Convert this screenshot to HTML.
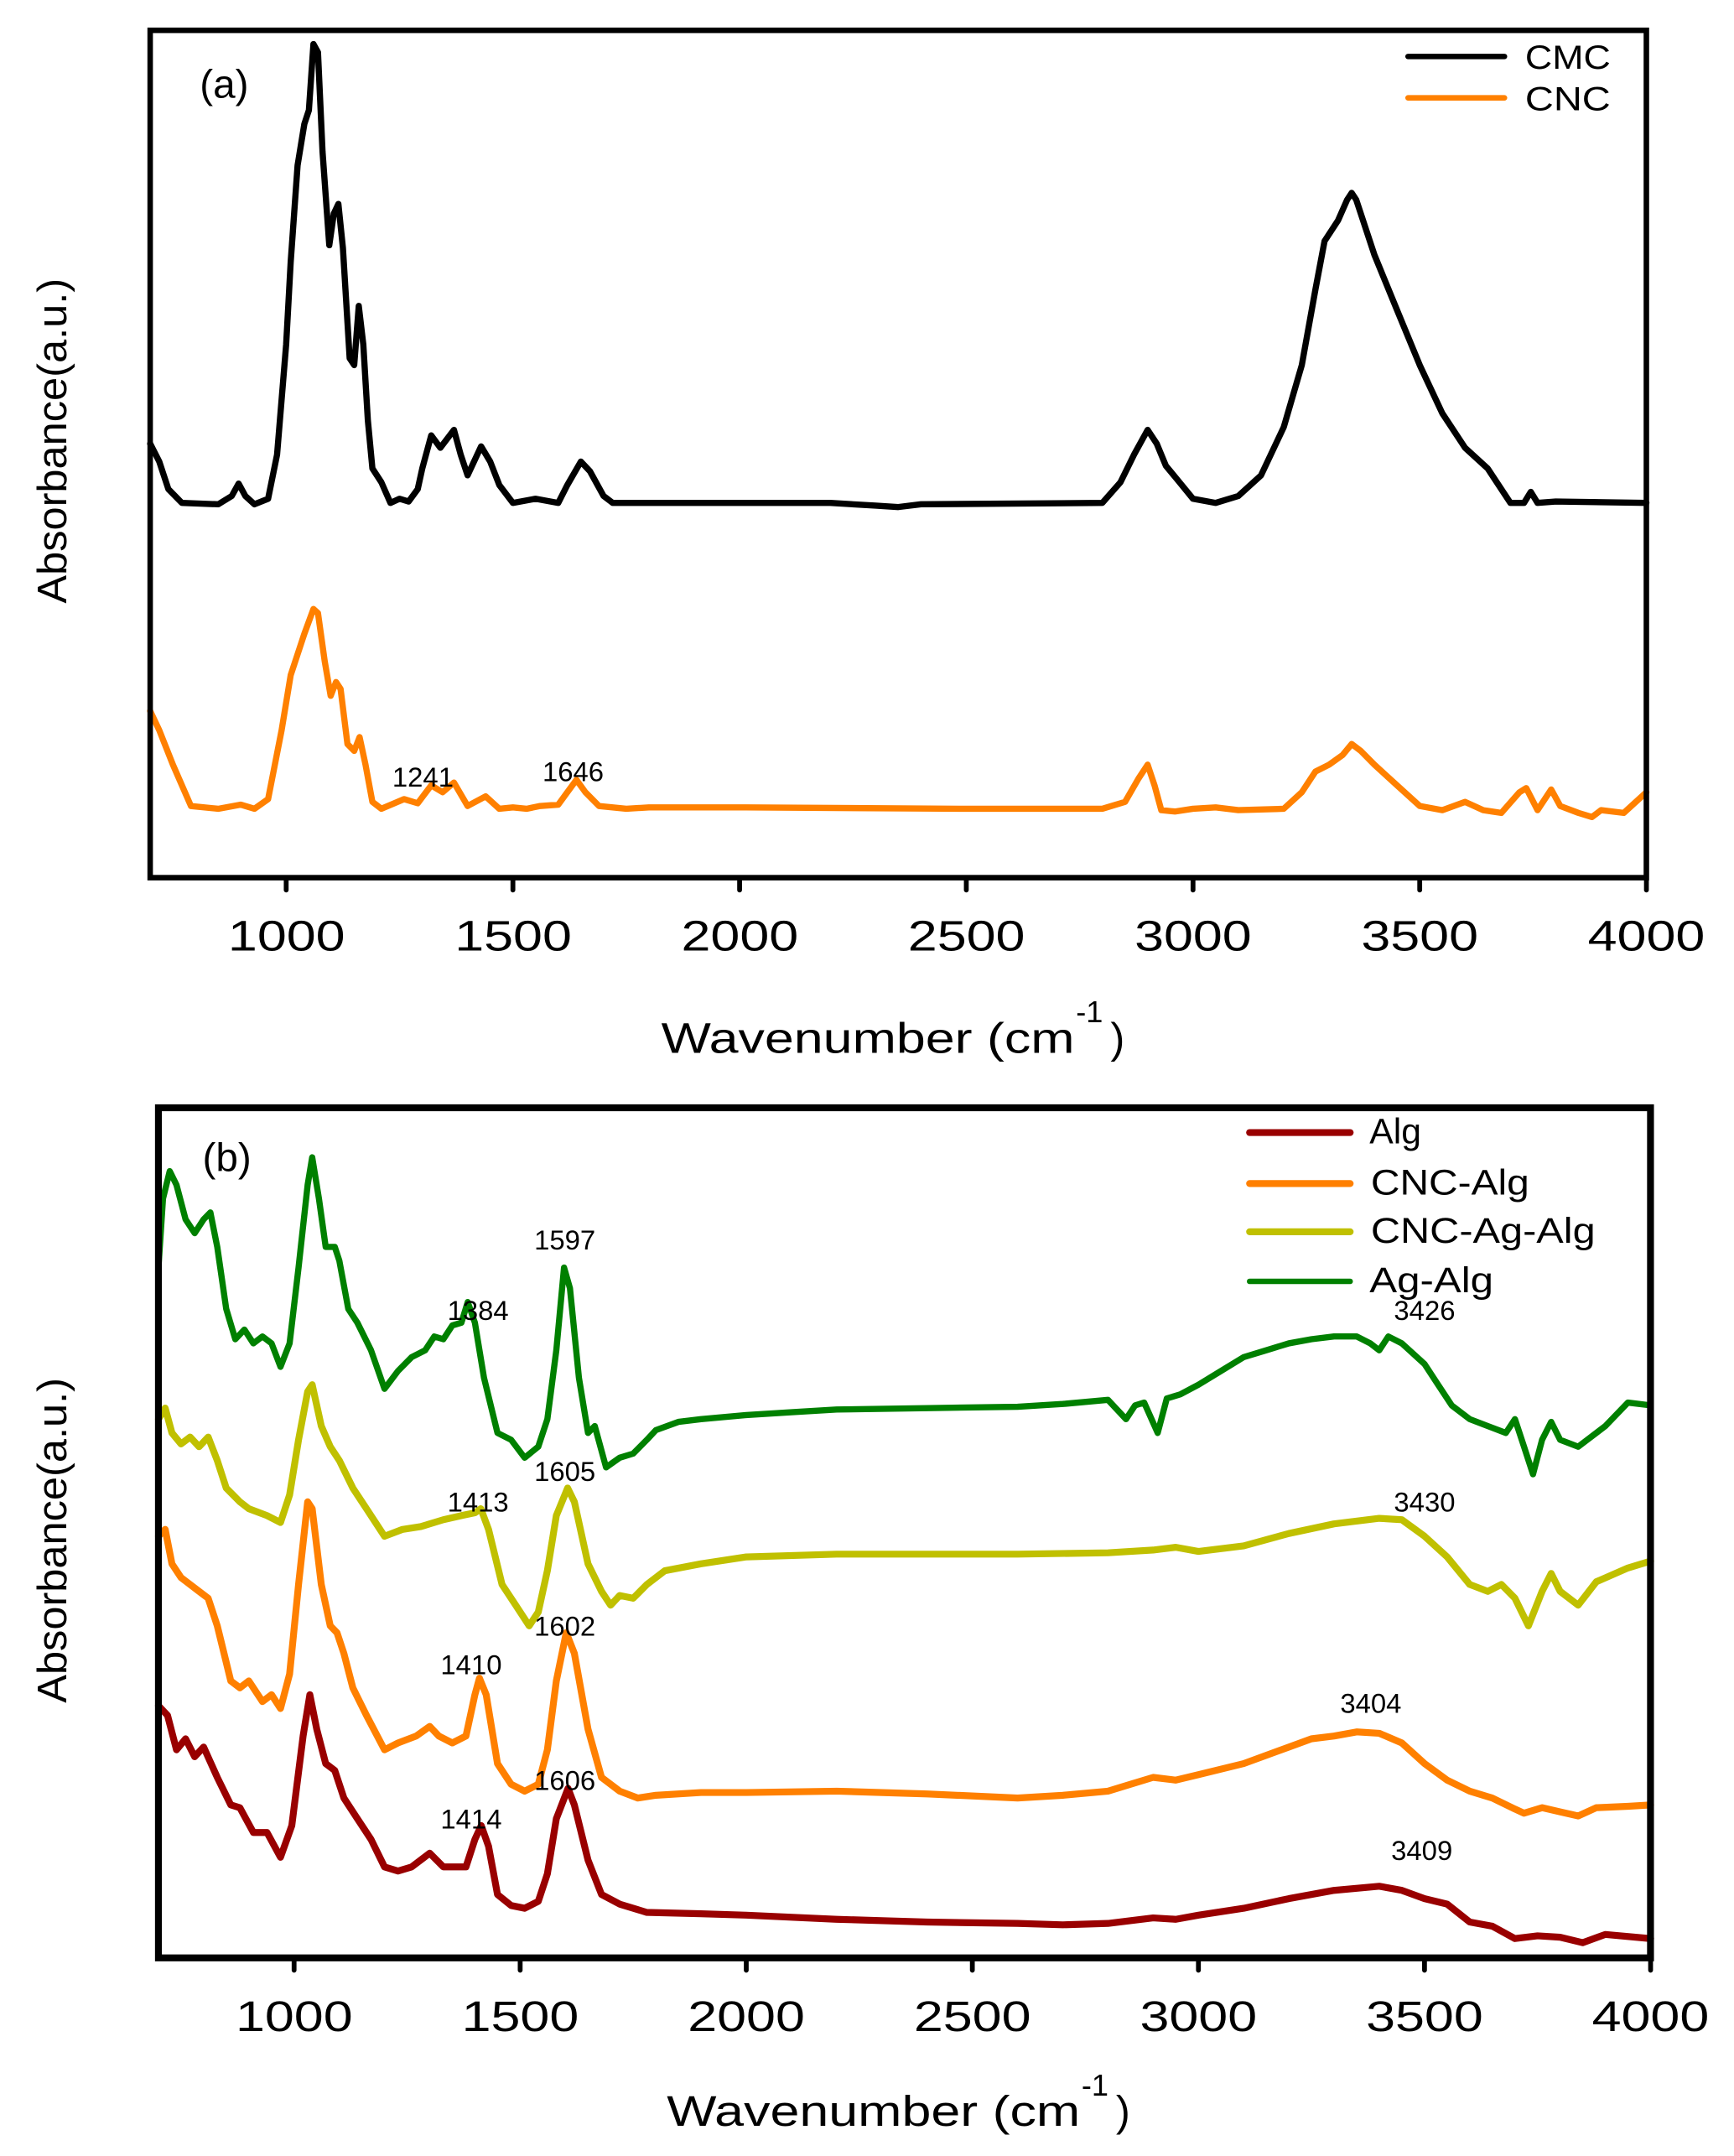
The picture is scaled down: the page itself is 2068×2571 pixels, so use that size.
<!DOCTYPE html>
<html><head><meta charset="utf-8"><style>
html,body{margin:0;padding:0;background:#fff}
svg{display:block}
text{font-family:"Liberation Sans",Arial,sans-serif;fill:#000}
</style></head><body>
<svg id="s" xmlns="http://www.w3.org/2000/svg" width="2068" height="2571" viewBox="0 0 1258.6 1564.8" preserveAspectRatio="none">
<rect x="0" y="0" width="1258.6" height="1564.8" fill="#fff"/>
<g id="series"></g>
<rect x="109" y="22" width="1086" height="615" fill="none" stroke="#000" stroke-width="4"/>
<rect x="115" y="804" width="1083" height="617" fill="none" stroke="#000" stroke-width="5"/>
<g id="ticks" stroke="#000" stroke-width="3.5" stroke-linecap="round"></g>
<g font-size="31">
<text x="208" y="690" text-anchor="middle" textLength="85" lengthAdjust="spacingAndGlyphs">1000</text>
<text x="372.5" y="690" text-anchor="middle" textLength="85" lengthAdjust="spacingAndGlyphs">1500</text>
<text x="537" y="690" text-anchor="middle" textLength="85" lengthAdjust="spacingAndGlyphs">2000</text>
<text x="701.5" y="690" text-anchor="middle" textLength="85" lengthAdjust="spacingAndGlyphs">2500</text>
<text x="866" y="690" text-anchor="middle" textLength="85" lengthAdjust="spacingAndGlyphs">3000</text>
<text x="1030.5" y="690" text-anchor="middle" textLength="85" lengthAdjust="spacingAndGlyphs">3500</text>
<text x="1195" y="690" text-anchor="middle" textLength="85" lengthAdjust="spacingAndGlyphs">4000</text>
</g>
<g font-size="31">
<text x="213.5" y="1474" text-anchor="middle" textLength="85" lengthAdjust="spacingAndGlyphs">1000</text>
<text x="377.6" y="1474" text-anchor="middle" textLength="85" lengthAdjust="spacingAndGlyphs">1500</text>
<text x="541.7" y="1474" text-anchor="middle" textLength="85" lengthAdjust="spacingAndGlyphs">2000</text>
<text x="705.8" y="1474" text-anchor="middle" textLength="85" lengthAdjust="spacingAndGlyphs">2500</text>
<text x="869.9" y="1474" text-anchor="middle" textLength="85" lengthAdjust="spacingAndGlyphs">3000</text>
<text x="1034" y="1474" text-anchor="middle" textLength="85" lengthAdjust="spacingAndGlyphs">3500</text>
<text x="1198" y="1474" text-anchor="middle" textLength="85" lengthAdjust="spacingAndGlyphs">4000</text>
</g>
<text x="480" y="764" font-size="31" textLength="300" lengthAdjust="spacingAndGlyphs">Wavenumber (cm</text>
<text x="781" y="742" font-size="22">-1</text>
<text x="806" y="764" font-size="31">)</text>
<text x="484" y="1543" font-size="31" textLength="300" lengthAdjust="spacingAndGlyphs">Wavenumber (cm</text>
<text x="785" y="1521" font-size="22">-1</text>
<text x="810" y="1543" font-size="31">)</text>
<text transform="translate(48,320) rotate(-90)" font-size="30" text-anchor="middle" textLength="236" lengthAdjust="spacingAndGlyphs">Absorbance(a.u.)</text>
<text transform="translate(48,1118) rotate(-90)" font-size="30" text-anchor="middle" textLength="236" lengthAdjust="spacingAndGlyphs">Absorbance(a.u.)</text>
<text x="145" y="71" font-size="29">(a)</text>
<text x="147" y="850" font-size="29">(b)</text>
<line x1="1022" y1="41" x2="1092" y2="41" stroke="#000" stroke-width="4" stroke-linecap="round"/>
<line x1="1022" y1="71" x2="1092" y2="71" stroke="#FF8000" stroke-width="4" stroke-linecap="round"/>
<text x="1107" y="50" font-size="24" textLength="62" lengthAdjust="spacingAndGlyphs">CMC</text>
<text x="1107" y="80" font-size="24" textLength="62" lengthAdjust="spacingAndGlyphs">CNC</text>
<line x1="907" y1="822" x2="980" y2="822" stroke="#990000" stroke-width="5" stroke-linecap="round"/>
<line x1="907" y1="859" x2="980" y2="859" stroke="#FF8000" stroke-width="5" stroke-linecap="round"/>
<line x1="907" y1="894" x2="980" y2="894" stroke="#C0C000" stroke-width="5" stroke-linecap="round"/>
<line x1="907" y1="930" x2="980" y2="930" stroke="#008000" stroke-width="4" stroke-linecap="round"/>
<g font-size="26">
<text x="994" y="830">Alg</text>
<text x="995" y="867" textLength="115" lengthAdjust="spacingAndGlyphs">CNC-Alg</text>
<text x="995" y="902" textLength="163" lengthAdjust="spacingAndGlyphs">CNC-Ag-Alg</text>
<text x="994" y="938" textLength="90" lengthAdjust="spacingAndGlyphs">Ag-Alg</text>
</g>
<g font-size="20" text-anchor="middle">
<text x="307" y="571">1241</text>
<text x="416" y="567">1646</text>
<text x="410" y="907">1597</text>
<text x="347" y="958">1384</text>
<text x="1034" y="958">3426</text>
<text x="410" y="1075">1605</text>
<text x="347" y="1097">1413</text>
<text x="1034" y="1097">3430</text>
<text x="410" y="1187">1602</text>
<text x="342" y="1215">1410</text>
<text x="995" y="1243">3404</text>
<text x="410" y="1299">1606</text>
<text x="342" y="1327">1414</text>
<text x="1032" y="1350">3409</text>
</g>
</svg>
<script>
(function(){
var NS="http://www.w3.org/2000/svg";
var g=document.getElementById("series"), tk=document.getElementById("ticks");
function Xa(w){return 109+(w-700)*0.3291;}
function Xb(w){return 115+(w-700)*0.3282;}
function add(d,fx,col,sw){
  var pts=[];for(var i=0;i<d.length;i+=2){pts.push(fx(d[i]).toFixed(1)+","+d[i+1]);}
  var p=document.createElementNS(NS,"polyline");
  p.setAttribute("points",pts.join(" "));p.setAttribute("fill","none");
  p.setAttribute("stroke",col);p.setAttribute("stroke-width",sw);
  p.setAttribute("stroke-linejoin","round");p.setAttribute("stroke-linecap","round");
  g.appendChild(p);
}
var cmc=[700,322,720,335,740,355,770,365,850,366,880,360,895,351,910,360,930,366,960,362,980,330,1000,250,1010,190,1025,120,1040,90,1050,80,1060,32,1070,38,1080,110,1095,178,1105,155,1115,148,1125,180,1140,260,1150,265,1160,222,1170,250,1180,305,1190,340,1210,350,1230,365,1250,362,1270,364,1290,355,1300,340,1320,316,1340,325,1370,312,1385,330,1400,345,1430,324,1450,335,1470,352,1500,365,1550,362,1600,365,1620,352,1650,335,1670,342,1700,360,1720,365,1800,365,2200,365,2300,367,2350,368,2400,366,2800,365,2840,350,2870,330,2900,312,2920,322,2940,338,2970,350,3000,362,3050,365,3100,360,3150,345,3200,310,3240,265,3270,210,3290,175,3320,160,3340,145,3350,140,3360,145,3380,165,3400,185,3450,225,3500,265,3550,300,3600,325,3650,340,3700,365,3730,365,3745,357,3760,365,3800,364,4000,365];
var cnc=[700,516,720,530,750,555,790,585,850,587,900,584,930,587,960,580,990,530,1010,490,1040,460,1060,442,1070,445,1085,480,1098,505,1110,495,1120,500,1135,540,1150,545,1162,535,1175,555,1190,582,1210,587,1260,580,1290,583,1320,570,1345,575,1370,568,1400,585,1440,578,1470,587,1500,586,1530,587,1560,585,1600,584,1620,575,1640,566,1660,575,1690,585,1750,587,1800,586,2000,586,2500,587,2800,587,2850,582,2880,565,2900,555,2915,570,2930,588,2960,589,3000,587,3050,586,3100,588,3200,587,3240,575,3270,560,3300,555,3330,548,3350,540,3370,545,3400,555,3450,570,3500,585,3550,588,3600,582,3640,588,3680,590,3720,575,3735,572,3760,588,3790,573,3810,585,3850,590,3880,593,3900,588,3950,590,4000,575];
var agalg=[700,920,710,870,725,850,740,860,760,885,780,895,800,885,815,880,830,905,850,950,870,972,890,965,910,975,930,970,950,975,970,992,990,975,1010,920,1030,860,1040,840,1055,870,1070,905,1090,905,1100,915,1120,950,1140,960,1170,980,1200,1008,1230,995,1260,985,1290,980,1310,970,1330,972,1350,962,1370,960,1384,945,1400,960,1420,1000,1450,1040,1480,1045,1510,1058,1540,1050,1560,1030,1580,980,1597,920,1610,935,1630,1000,1650,1040,1665,1035,1690,1065,1720,1058,1750,1055,1780,1045,1800,1038,1850,1032,1900,1030,2000,1027,2100,1025,2200,1023,2400,1022,2600,1021,2700,1019,2800,1016,2840,1030,2860,1020,2880,1018,2910,1040,2930,1015,2960,1012,3000,1005,3050,995,3100,985,3150,980,3200,975,3250,972,3300,970,3350,970,3380,975,3400,980,3420,970,3450,975,3500,990,3530,1005,3560,1020,3600,1030,3640,1035,3680,1040,3700,1030,3720,1050,3740,1070,3760,1045,3780,1032,3800,1045,3840,1050,3860,1045,3900,1035,3950,1018,4000,1020];
var cncag=[700,1030,715,1022,730,1040,750,1048,770,1043,790,1050,810,1043,830,1060,850,1080,880,1090,900,1095,940,1100,970,1105,990,1085,1010,1045,1030,1010,1040,1005,1060,1035,1080,1050,1100,1060,1130,1080,1160,1095,1200,1115,1240,1110,1280,1108,1330,1103,1370,1100,1400,1098,1413,1095,1430,1110,1460,1150,1490,1165,1520,1180,1540,1170,1560,1140,1580,1100,1605,1080,1620,1090,1650,1135,1680,1155,1700,1165,1720,1158,1750,1160,1780,1150,1820,1140,1900,1135,2000,1130,2200,1128,2600,1128,2800,1127,2900,1125,2950,1123,3000,1126,3100,1122,3200,1113,3300,1106,3400,1102,3450,1103,3500,1115,3550,1130,3600,1150,3640,1155,3670,1150,3700,1160,3730,1180,3760,1155,3780,1142,3800,1155,3840,1165,3880,1148,3950,1138,4000,1133];
var cncalg=[700,1115,715,1110,730,1135,750,1145,790,1155,810,1160,830,1180,860,1220,880,1225,900,1220,930,1235,950,1230,970,1240,990,1215,1010,1150,1030,1090,1040,1095,1060,1150,1080,1180,1095,1185,1110,1200,1130,1225,1160,1245,1200,1270,1230,1265,1270,1260,1300,1253,1320,1260,1350,1265,1380,1260,1400,1230,1410,1218,1425,1230,1450,1280,1480,1295,1510,1300,1540,1295,1560,1270,1580,1220,1602,1185,1620,1200,1650,1255,1680,1290,1720,1300,1760,1305,1800,1303,1900,1301,2000,1301,2200,1300,2400,1302,2600,1305,2700,1303,2800,1300,2850,1295,2900,1290,2950,1292,3000,1288,3100,1280,3200,1268,3250,1262,3300,1260,3350,1257,3400,1258,3450,1265,3500,1280,3550,1292,3600,1300,3650,1305,3700,1313,3720,1316,3760,1312,3800,1315,3840,1318,3880,1312,3950,1311,4000,1310];
var alg=[700,1238,720,1245,740,1270,760,1262,780,1275,800,1268,830,1290,860,1310,880,1312,910,1330,940,1330,970,1348,995,1325,1020,1260,1035,1230,1050,1255,1070,1280,1090,1285,1110,1305,1140,1320,1170,1335,1200,1355,1230,1358,1260,1355,1300,1345,1330,1355,1380,1355,1400,1335,1414,1325,1430,1340,1450,1375,1480,1383,1510,1385,1540,1380,1560,1360,1580,1320,1606,1298,1620,1310,1650,1350,1680,1375,1720,1382,1780,1388,1900,1389,2000,1390,2200,1393,2400,1395,2600,1396,2700,1397,2800,1396,2900,1392,2950,1393,3000,1390,3100,1385,3200,1378,3300,1372,3400,1369,3450,1372,3500,1378,3550,1382,3600,1395,3650,1398,3700,1407,3750,1405,3800,1406,3850,1410,3900,1404,4000,1407];
add(cmc,Xa,"#000",4.5);add(cnc,Xa,"#FF8000",4.5);
add(agalg,Xb,"#008000",4.5);add(cncag,Xb,"#C0C000",5);add(cncalg,Xb,"#FF8000",5);add(alg,Xb,"#990000",5);
for(var w=1000;w<=4000;w+=500){
  var l=document.createElementNS(NS,"line");l.setAttribute("x1",Xa(w));l.setAttribute("x2",Xa(w));l.setAttribute("y1",637);l.setAttribute("y2",646);tk.appendChild(l);
  var m=document.createElementNS(NS,"line");m.setAttribute("x1",Xb(w));m.setAttribute("x2",Xb(w));m.setAttribute("y1",1421);m.setAttribute("y2",1430);tk.appendChild(m);
}
})();
</script>
</body></html>
